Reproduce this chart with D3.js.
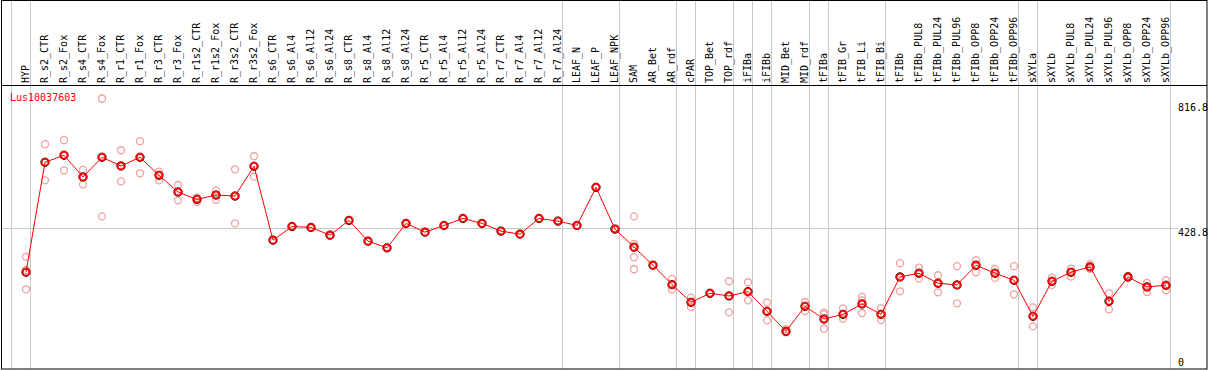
<!DOCTYPE html>
<html>
<head>
<meta charset="utf-8">
<script src="https://cdn.jsdelivr.net/npm/d3@7"></script>
<style>
  body { margin: 0; background: #fff; }
  svg { display: block; }
  text { font-family: "DejaVu Sans Mono", "Liberation Mono", monospace; font-size: 10px; }
</style>
</head>
<body>
<svg></svg>
<script>
// datos
var gene = "Lus10037603";

var samples = ["HYP","R_s2_CTR","R_s2_Fox","R_s4_CTR","R_s4_Fox","R_r1_CTR","R_r1_Fox","R_r3_CTR","R_r3_Fox",
  "R_r1s2_CTR","R_r1s2_Fox","R_r3s2_CTR","R_r3s2_Fox","R_s6_CTR","R_s6_Al4","R_s6_Al12","R_s6_Al24",
  "R_s8_CTR","R_s8_Al4","R_s8_Al12","R_s8_Al24","R_r5_CTR","R_r5_Al4","R_r5_Al12","R_r5_Al24",
  "R_r7_CTR","R_r7_Al4","R_r7_Al12","R_r7_Al24","LEAF_N","LEAF_P","LEAF_NPK","SAM","AR_Bet","AR_rdf",
  "cPAR","TOP_Bet","TOP_rdf","iFIBa","iFIBb","MID_Bet","MID_rdf","tFIBa","tFIB_Gr","tFIB_Li","tFIB_Bi",
  "tFIBb","tFIBb_PUL8","tFIBb_PUL24","tFIBb_PUL96","tFIBb_OPP8","tFIBb_OPP24","tFIBb_OPP96",
  "sXYLa","sXYLb","sXYLb_PUL8","sXYLb_PUL24","sXYLb_PUL96","sXYLb_OPP8","sXYLb_OPP24","sXYLb_OPP96"];

var means = [297,626,647,582,641,615,641,587,537,515,528,525,614,393,434,431,408,
  452,390,370,443,417,437,458,443,420,411,458,450,437,551,426,372,318,260,
  207,234,226,239,180,120,195,157,171,202,171,
  283,294,264,259,318,294,273,
  165,270,297,313,210,283,253,258];

var reps = [[343,304,246],[680,572],[692,602],[603,560],[816.8,464],[662,569],[689,593],[598,572],[558,512],
  [520,507],[541,514],[605,443],[644,583],[393],[434],[431],[408],
  [452],[390],[370],[443],[417],[437],[458],[443],
  [420],[411],[458],[450],[437],[551],[426],[464,382,342,306],[318],[277,245],
  [221,193],[234],[270,177],[267,213],[207,153],[127,117],[208,181],[176,171,128],[189,158],[223,213,175],[189,154],
  [324,240],[311,278],[288,237],[315,204],[333,297],[307,280],[315,231],
  [192,135],[281,259],[308,284],[321,307],[234,186],[286,280],[265,238],[273,243]];

// ultima muestra de cada grupo (lineas grises)
var groupEnds = ["HYP","R_r7_Al24","LEAF_NPK","AR_rdf","cPAR","TOP_rdf","iFIBa","iFIBb","MID_rdf",
  "tFIBa","tFIB_Bi","tFIBb_OPP96","sXYLa","sXYLb_OPP96"];

var yTicks = [816.8, 428.8, 0];
var refValue = 428.8;

var W = 1209, H = 370,
  headBottom = 85.5,
  svg = d3.select("svg").attr("width", W).attr("height", H);

var x = d3.scalePoint().domain(samples).range([26, 1166]);
var step = x.step();
var y = d3.scaleLinear().domain([0, 816.8]).range([371.5, 98.5]);

// lineas verticales de grupo
var sepX = [x(samples[0]) - step + 4.5].concat(groupEnds.map(function(s){ return x(s) + 4.5; }));
svg.selectAll(".sep").data(sepX).enter().append("line")
  .attr("class", "sep")
  .attr("x1", function(d){ return d; }).attr("x2", function(d){ return d; })
  .attr("y1", 0).attr("y2", 369)
  .style("stroke", "#c8c8c8");

// linea de referencia
svg.append("line")
  .attr("x1", 1).attr("x2", 1178)
  .attr("y1", Math.round(y(refValue)) + 0.5).attr("y2", Math.round(y(refValue)) + 0.5)
  .style("stroke", "#c8c8c8");

// marco
svg.append("rect")
  .attr("x", 1.5).attr("y", 0.5).attr("width", 1205.5).attr("height", 368.5)
  .attr("fill", "none").style("stroke", "black");
svg.append("line")
  .attr("x1", 1).attr("x2", 1207).attr("y1", headBottom).attr("y2", headBottom)
  .style("stroke", "black");

// etiquetas de muestras
svg.selectAll(".lab").data(samples).enter().append("text")
  .attr("class", "lab")
  .attr("transform", function(d){ return "translate(" + (x(d) + 3) + ",83) rotate(-90)"; })
  .attr("fill", "black")
  .text(function(d){ return d; });

// eje derecho
svg.selectAll(".tick").data(yTicks).enter().append("text")
  .attr("class", "tick")
  .attr("x", 1178)
  .attr("y", function(d){ return Math.min(Math.max(y(d) + 7.5, 111), 366); })
  .attr("fill", "black")
  .text(function(d){ return d; });

// nombre del gen
svg.append("text")
  .attr("x", 10).attr("y", 101)
  .attr("fill", "red")
  .text(gene);

// replicas
var pts = [];
reps.forEach(function(r, i){
  r.forEach(function(v){ pts.push({s: samples[i], v: v}); });
});
svg.selectAll(".rep").data(pts).enter().append("circle")
  .attr("class", "rep")
  .attr("cx", function(d){ return x(d.s); })
  .attr("cy", function(d){ return y(d.v); })
  .attr("r", 3.5)
  .attr("fill", "none")
  .style("stroke", "#f0a0a0")
  .style("stroke-width", 1.3);

// linea de medias
var line = d3.line()
  .x(function(d, i){ return x(samples[i]); })
  .y(function(d){ return y(d); });
svg.append("path")
  .datum(means)
  .attr("d", line)
  .attr("fill", "none")
  .style("stroke", "red")
  .style("stroke-width", 1);

// medias
svg.selectAll(".meanO").data(means).enter().append("circle")
  .attr("class", "meanO")
  .attr("cx", function(d, i){ return x(samples[i]); })
  .attr("cy", function(d){ return y(d); })
  .attr("r", 4.2)
  .attr("fill", "none")
  .style("stroke", "#500")
  .style("stroke-width", 1);
svg.selectAll(".mean").data(means).enter().append("circle")
  .attr("class", "mean")
  .attr("cx", function(d, i){ return x(samples[i]); })
  .attr("cy", function(d){ return y(d); })
  .attr("r", 3.3)
  .attr("fill", "none")
  .style("stroke", "red")
  .style("stroke-width", 1.6);
</script>
</body>
</html>
